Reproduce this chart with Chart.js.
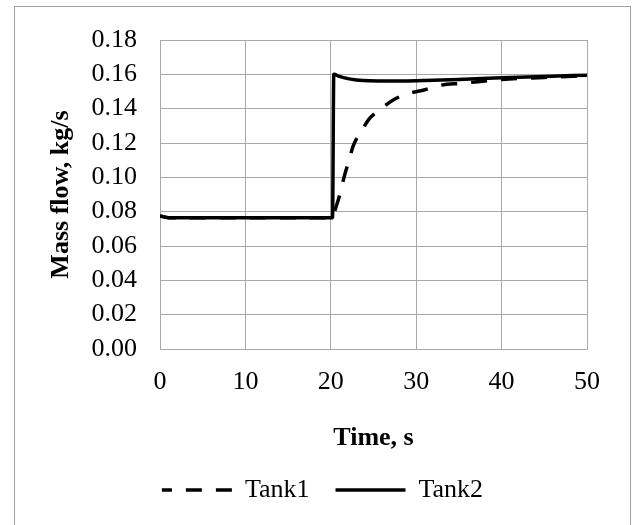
<!DOCTYPE html>
<html>
<head>
<meta charset="utf-8">
<script src="https://cdn.jsdelivr.net/npm/chart.js@4"></script>
<style>
    html, body { margin: 0; padding: 0; background: #fff; overflow: hidden; width: 635px; height: 525px; }
    #frame { position: absolute; left: 14px; top: 6px; width: 617px; height: 540px; box-sizing: border-box; border: 1px solid #a0a0a0; }
    #flowChart { position: absolute; left: 0; top: 0; }
</style>
</head>
<body>
<div id="frame">
    <canvas id="flowChart" width="615" height="506"></canvas>
</div>

<script>
// values
var tank1Time = [0, 1, 20.2, 20.5, 21, 21.6, 22.2, 22.6, 23.6, 24.5, 25.9, 27.5, 29.2, 31, 32.7, 35.4, 40, 45, 50];
var tank1Flow = [0.0775, 0.0765, 0.0765, 0.081, 0.089, 0.101, 0.111, 0.118, 0.127, 0.134, 0.140, 0.1456, 0.149, 0.151, 0.1535, 0.1548, 0.157, 0.1582, 0.1592];

var tank2Time = [0, 1, 20.2, 20.35, 21, 22, 23, 24.5, 27, 30, 35, 40, 45, 50];
var tank2Flow = [0.0775, 0.0765, 0.0765, 0.160, 0.1588, 0.1575, 0.1567, 0.1562, 0.1561, 0.1563, 0.157, 0.158, 0.1588, 0.1595];

var xTicks = [0, 10, 20, 30, 40, 50];
var yTicks = [0, 0.02, 0.04, 0.06, 0.08, 0.10, 0.12, 0.14, 0.16, 0.18];

function toPoints(xs, ys) {
    return xs.map(function(x, i) { return { x: x, y: ys[i] }; });
}

var gridColor = '#a8a8a8';
var serif = 'Liberation Serif';

// the tick labels should not push the plot area around
function noEdgePadding(scale) {
    scale.paddingTop = 0;
    scale.paddingBottom = 0;
}

var ctx = document.getElementById('flowChart').getContext('2d');
var myFlowChart = new Chart(ctx, {
    type: 'line',
    data: {
        datasets: [{
            label: 'Tank1',
            data: toPoints(tank1Time, tank1Flow),
            borderColor: '#000',
            backgroundColor: '#000',
            borderWidth: 3.5,
            borderDash: [16, 14],
            borderCapStyle: 'butt',
            pointRadius: 0,
            pointStyle: 'line',
            cubicInterpolationMode: 'monotone'
        }, {
            label: 'Tank2',
            data: toPoints(tank2Time, tank2Flow),
            borderColor: '#000',
            backgroundColor: '#000',
            borderWidth: 3.5,
            borderCapStyle: 'butt',
            pointRadius: 0,
            pointStyle: 'line',
            cubicInterpolationMode: 'monotone'
        }]
    },
    options: {
        responsive: false,
        animation: false,
        devicePixelRatio: 1,
        layout: { padding: { top: 33, left: 0, right: 0, bottom: 0 } },
        plugins: {
            tooltip: { enabled: false },
            legend: {
                position: 'bottom',
                labels: {
                    usePointStyle: true,
                    pointStyleWidth: 70,
                    padding: 26,
                    color: '#000',
                    font: { family: serif, size: 26 },
                    // point style legend items drop the dash, so put it back
                    generateLabels: function(chart) {
                        var items = Chart.defaults.plugins.legend.labels.generateLabels(chart);
                        items.forEach(function(item) {
                            var ds = chart.data.datasets[item.datasetIndex];
                            item.lineDash = ds.borderDash || [];
                            item.lineDashOffset = 6;
                            item.lineCap = 'butt';
                        });
                        return items;
                    }
                }
            }
        },
        scales: {
            x: {
                type: 'linear',
                min: 0,
                max: 50,
                afterBuildTicks: function(scale) {
                    scale.ticks = xTicks.map(function(v) { return { value: v }; });
                },
                afterFit: function(scale) { scale.height = 102; },
                grid: { color: gridColor, drawTicks: false },
                border: { color: gridColor },
                ticks: {
                    autoSkip: false,
                    maxRotation: 0,
                    padding: 18,
                    color: '#000',
                    font: { family: serif, size: 26 }
                },
                title: {
                    display: true,
                    text: 'Time, s',
                    color: '#000',
                    padding: { top: 0, bottom: -3 },
                    font: { family: serif, size: 26, weight: 'bold' }
                }
            },
            y: {
                type: 'linear',
                min: 0,
                max: 0.18,
                afterBuildTicks: function(scale) {
                    scale.ticks = yTicks.map(function(v) { return { value: v }; });
                },
                afterFit: function(scale) { scale.width = 145; noEdgePadding(scale); },
                grid: { color: gridColor, drawTicks: false },
                border: { color: gridColor },
                ticks: {
                    autoSkip: false,
                    padding: 23,
                    color: '#000',
                    font: { family: serif, size: 26 },
                    callback: function(v) { return v.toFixed(2); }
                },
                title: {
                    display: true,
                    text: 'Mass flow, kg/s',
                    color: '#000',
                    padding: { top: 31, bottom: 0 },
                    font: { family: serif, size: 26, weight: 'bold' }
                }
            },
            spare: {
                type: 'linear',
                position: 'right',
                display: true,
                afterFit: function(scale) { scale.width = 43; noEdgePadding(scale); },
                grid: { display: false, drawTicks: false },
                border: { display: false },
                ticks: { display: false }
            }
        }
    }
});
</script>
</body>
</html>
